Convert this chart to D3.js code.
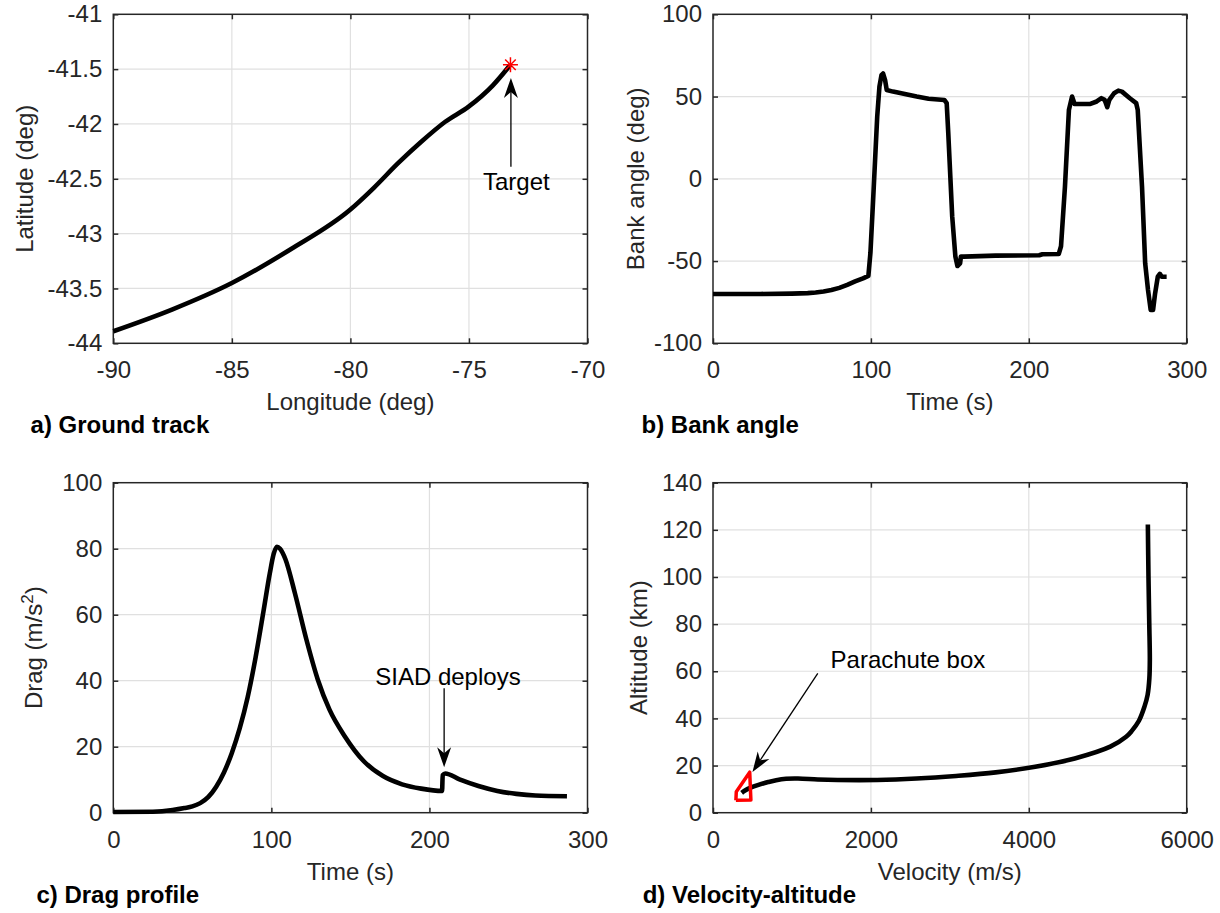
<!DOCTYPE html>
<html>
<head>
<meta charset="utf-8">
<script src="https://cdn.jsdelivr.net/npm/d3@7"></script>
<style>
  body { margin: 0; background: #fff; }
  text { font-family: "Liberation Sans", Arial, Helvetica, sans-serif; }
</style>
</head>
<body>
<svg id="fig" width="1220" height="913"></svg>
<script>
// a) ground track
const trackLon = [-90, -87.5, -85, -82.5, -80, -79, -78, -77, -76, -75, -74, -73.25]
const trackLat = [-43.89, -43.69, -43.45, -43.14, -42.78, -42.58, -42.36, -42.16, -41.98, -41.84, -41.65, -41.46]
const target = [-73.25, -41.46]
const lonTicks = [-90, -85, -80, -75, -70]
const latTicks = [-44, -43.5, -43, -42.5, -42, -41.5, -41]

// b) bank angle
const bankT = [0, 30, 50, 60, 65, 70, 75, 80, 85, 90, 95, 98.4, 99.7, 101.4, 104, 105.4, 106.7, 107.7, 109, 110, 114,
  129, 136.5, 146.5, 148, 149, 151.5, 153.5, 154.8, 156.5, 157, 159, 179, 206.6, 208.6, 219, 220.4,
  222.9, 225.4, 227.4, 229, 239, 243, 246, 248, 249.7, 251, 254, 256.7, 259, 264, 268, 269,
  271.7, 273.7, 275.5, 277.2, 278.7, 280, 281.7, 283, 284.2, 287.3]
const bankDeg = [-70, -70, -69.8, -69.5, -69.1, -68.5, -67.6, -66.3, -64.5, -62.4, -60.5, -59, -45, -12.9, 37.8, 56, 63, 64, 60, 54, 53,
  50, 48.7, 47.9, 46, 27.7, -23, -47.3, -53, -51.4, -47.3, -47.3, -46.7, -46.5, -45.9, -45.7, -41,
  -4.8, 41.8, 50, 45.5, 45.5, 47, 49, 48, 43.5, 48, 52, 53.6, 53, 49, 46, 41.8,
  -4.8, -51.4, -67.6, -79.7, -79.7, -69.6, -59.5, -57.8, -59.5, -59.5]
const timeTicks = [0, 100, 200, 300]
const bankTicks = [-100, -50, 0, 50, 100]

// c) drag profile
const dragT = [0, 25, 37.5, 45, 50, 55, 60, 65, 70, 75, 80, 85, 90, 95, 99, 101.5, 103.5, 105.5,
  108.9, 114.9, 122.2, 129.4, 136.7, 146.4, 158.5, 170.6, 182.7, 194.8, 208, 208.4, 210,
  219, 231, 243, 255, 267, 287]
const dragVal = [0.2, 0.3, 0.8, 1.4, 1.9, 2.9, 4.7, 7.8, 12.2, 18.1, 25.6, 35, 47, 61, 72.5, 78.5, 80.6, 80.0,
  76.8, 66.5, 52.4, 40.3, 31.3, 23.2, 15.6, 11.1, 8.6, 7.3, 6.6, 11.4, 11.9,
  10.1, 8.1, 6.6, 5.7, 5.2, 5.0]
const dragTicks = [0, 20, 40, 60, 80, 100]

// d) velocity-altitude
const velV = [5508, 5516, 5526, 5533, 5527, 5505, 5465, 5395, 5300, 5233, 5032, 4582, 4081, 3580, 3080,
  2579, 2078, 1577, 1327, 1077, 926, 800, 700, 576, 476, 400, 363]
const velAlt = [122.3, 100, 80, 65, 57, 50, 45, 39, 34.5, 32.2, 28, 23, 19.5, 17.1, 15.6,
  14.5, 13.9, 13.9, 14.1, 14.5, 14.4, 13.8, 13.0, 11.8, 10.6, 9.3, 8.4]
const chuteV = [290, 295, 465, 480, 290]
const chuteAlt = [5.3, 8.9, 17.2, 5.4, 5.3]
const velTicks = [0, 2000, 4000, 6000]
const altTicks = [0, 20, 40, 60, 80, 100, 120, 140]

const svg = d3.select("#fig")
const ink = "#262626"
const fmt = d => String(d)

function zip(a, b) {
  return a.map((v, i) => [v, b[i]])
}

function panel(p) {
  const g = svg.append("g")
  const x = d3.scaleLinear().domain(p.xDomain).range([p.left, p.right])
  const y = d3.scaleLinear().domain(p.yDomain).range([p.bottom, p.top])

  // grid
  g.append("g").selectAll("line")
    .data(p.xTicks.slice(1, -1))
    .join("line")
    .attr("x1", d => x(d)).attr("x2", d => x(d))
    .attr("y1", p.top).attr("y2", p.bottom)
    .attr("stroke", "#e0e0e0").attr("stroke-width", 1.2)
  g.append("g").selectAll("line")
    .data(p.yTicks.slice(1, -1))
    .join("line")
    .attr("y1", d => y(d)).attr("y2", d => y(d))
    .attr("x1", p.left).attr("x2", p.right)
    .attr("stroke", "#e0e0e0").attr("stroke-width", 1.2)

  // axes, ticks pointing inward on all four sides
  const axes = [
    [d3.axisBottom(x).tickValues(p.xTicks).tickFormat(fmt).tickPadding(18), `translate(0,${p.bottom})`],
    [d3.axisTop(x).tickValues(p.xTicks).tickFormat(""), `translate(0,${p.top})`],
    [d3.axisLeft(y).tickValues(p.yTicks).tickFormat(fmt).tickPadding(11), `translate(${p.left},0)`],
    [d3.axisRight(y).tickValues(p.yTicks).tickFormat(""), `translate(${p.right},0)`],
  ]
  axes.forEach(([ax, tr]) => {
    const a = g.append("g").attr("transform", tr)
      .call(ax.tickSizeInner(-5).tickSizeOuter(0))
    a.select(".domain").remove()
    a.selectAll("line").attr("stroke", ink).attr("stroke-width", 1.5)
    a.selectAll("text").attr("fill", ink).style("font-size", "24px")
  })

  g.append("rect")
    .attr("x", p.left).attr("y", p.top)
    .attr("width", p.right - p.left).attr("height", p.bottom - p.top)
    .attr("fill", "none").attr("stroke", ink).attr("stroke-width", 1.5)

  // axis labels
  g.append("text")
    .attr("x", (p.left + p.right) / 2).attr("y", p.bottom + 67)
    .attr("text-anchor", "middle").attr("fill", ink)
    .style("font-size", "24px")
    .text(p.xLabel)
  const yl = g.append("text")
    .attr("transform", `translate(${p.left - p.yLabelOffset},${(p.top + p.bottom) / 2}) rotate(-90)`)
    .attr("text-anchor", "middle").attr("fill", ink)
    .style("font-size", "24px")
  p.yLabel(yl)

  // panel title
  g.append("text")
    .attr("x", p.titleX).attr("y", p.titleY)
    .attr("fill", "#000")
    .style("font-size", "24px").style("font-weight", "bold")
    .text(p.title)

  return { g, x, y }
}

function curve(pn, pts, c) {
  pn.g.append("path")
    .datum(pts)
    .attr("fill", "none")
    .attr("stroke", "#000")
    .attr("stroke-width", 4.6)
    .attr("stroke-linejoin", "round")
    .attr("d", d3.line().x(d => pn.x(d[0])).y(d => pn.y(d[1])).curve(c))
}

function arrow(pn, from, to) {
  const x1 = pn.x(from[0]), y1 = pn.y(from[1])
  const x2 = pn.x(to[0]), y2 = pn.y(to[1])
  const len = Math.hypot(x2 - x1, y2 - y1)
  const ux = (x2 - x1) / len, uy = (y2 - y1) / len
  const nx = -uy, ny = ux
  const L = 20, w = 7, notch = 14
  pn.g.append("line")
    .attr("x1", x1).attr("y1", y1)
    .attr("x2", x2 - ux * notch).attr("y2", y2 - uy * notch)
    .attr("stroke", "#000").attr("stroke-width", 1.3)
  const head = [
    [x2, y2],
    [x2 - ux * L + nx * w, y2 - uy * L + ny * w],
    [x2 - ux * notch, y2 - uy * notch],
    [x2 - ux * L - nx * w, y2 - uy * L - ny * w],
  ]
  pn.g.append("path")
    .attr("d", "M" + head.join("L") + "Z")
    .attr("fill", "#000")
}

function label(pn, pos, txt) {
  pn.g.append("text")
    .attr("x", pn.x(pos[0])).attr("y", pn.y(pos[1]))
    .attr("dy", "0.35em")
    .attr("text-anchor", "middle")
    .attr("fill", "#000")
    .style("font-size", "24px")
    .text(txt)
}

// ---- a) Ground track
const pa = panel({
  left: 113.3, right: 587.5, top: 14.3, bottom: 343.3,
  xDomain: [-90, -70], yDomain: [-44, -41], xTicks: lonTicks, yTicks: latTicks,
  xLabel: "Longitude (deg)", yLabelOffset: 80,
  yLabel: t => t.text("Latitude (deg)"),
  title: "a) Ground track", titleX: 30.6, titleY: 433,
})
curve(pa, zip(trackLon, trackLat), d3.curveMonotoneX)
const tx = pa.x(target[0]), ty = pa.y(target[1])
pa.g.append("g").selectAll("line")
  .data([0, 45, 90, 135])
  .join("line")
  .attr("x1", a => tx - 7.5 * Math.cos(a * Math.PI / 180))
  .attr("y1", a => ty - 7.5 * Math.sin(a * Math.PI / 180))
  .attr("x2", a => tx + 7.5 * Math.cos(a * Math.PI / 180))
  .attr("y2", a => ty + 7.5 * Math.sin(a * Math.PI / 180))
  .attr("stroke", "#ff0000").attr("stroke-width", 1.5)
arrow(pa, [-73.23, -42.39], [-73.23, -41.58])
label(pa, [-73.0, -42.53], "Target")

// ---- b) Bank angle
const pb = panel({
  left: 713, right: 1186.7, top: 14.3, bottom: 343.3,
  xDomain: [0, 300], yDomain: [-100, 100], xTicks: timeTicks, yTicks: bankTicks,
  xLabel: "Time (s)", yLabelOffset: 69,
  yLabel: t => t.text("Bank angle (deg)"),
  title: "b) Bank angle", titleX: 641.5, titleY: 433,
})
curve(pb, zip(bankT, bankDeg), d3.curveLinear)

// ---- c) Drag profile
const pc = panel({
  left: 113.3, right: 587.5, top: 482.7, bottom: 812.7,
  xDomain: [0, 300], yDomain: [0, 100], xTicks: timeTicks, yTicks: dragTicks,
  xLabel: "Time (s)", yLabelOffset: 71,
  yLabel: t => {
    t.append("tspan").text("Drag (m/s")
    t.append("tspan").attr("dy", -9).style("font-size", "17px").text("2")
    t.append("tspan").attr("dy", 9).text(")")
  },
  title: "c) Drag profile", titleX: 36.4, titleY: 903,
})
curve(pc, zip(dragT, dragVal), d3.curveMonotoneX)
arrow(pc, [209.3, 37.7], [209.3, 13.8])
label(pc, [211.7, 41.3], "SIAD deploys")

// ---- d) Velocity-altitude
const pd = panel({
  left: 713, right: 1186.7, top: 482.7, bottom: 812.7,
  xDomain: [0, 6000], yDomain: [0, 140], xTicks: velTicks, yTicks: altTicks,
  xLabel: "Velocity (m/s)", yLabelOffset: 66,
  yLabel: t => t.text("Altitude (km)"),
  title: "d) Velocity-altitude", titleX: 642.7, titleY: 903,
})
curve(pd, zip(velV, velAlt), d3.curveCatmullRom.alpha(0.5))
pd.g.append("path")
  .datum(zip(chuteV, chuteAlt))
  .attr("fill", "none")
  .attr("stroke", "#ff0000")
  .attr("stroke-width", 3.5)
  .attr("stroke-linejoin", "round")
  .attr("d", d3.line().x(d => pd.x(d[0])).y(d => pd.y(d[1])))
arrow(pd, [1327, 59.1], [500, 17.3])
label(pd, [2469, 64.8], "Parachute box")
</script>
</body>
</html>
